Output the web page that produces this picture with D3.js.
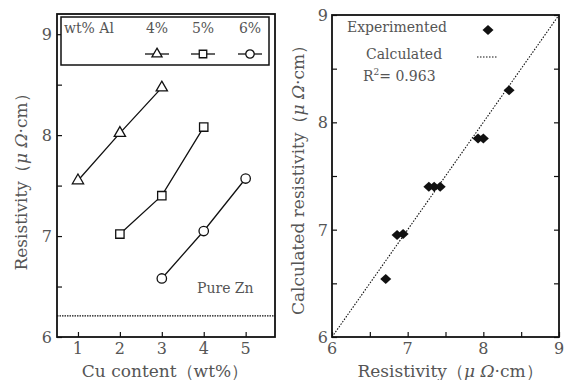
<!DOCTYPE html>
<html><head><meta charset="utf-8">
<script src="https://cdn.jsdelivr.net/npm/d3@7/dist/d3.min.js"></script>
<style>body{margin:0;background:#fff}svg{display:block}text{font-family:"DejaVu Serif","Liberation Serif",serif;fill:#555}</style>
</head><body><svg id="c" width="566" height="380"></svg>
<script>
// ---- data ----
const cuContent = [1, 2, 3, 4, 5];
const alLabels = ["4%", "5%", "6%"];
const series4 = [[1, 7.55], [2, 8.02], [3, 8.47]];
const series5 = [[2, 7.02], [3, 7.40], [4, 8.08]];
const series6 = [[3, 6.58], [4, 7.05], [5, 7.57]];
const pureZn = 6.21;
const expValues  = [6.71, 6.86, 6.94, 7.28, 7.35, 7.43, 7.93, 8.00, 8.34];
const calcValues = [6.54, 6.95, 6.96, 7.40, 7.40, 7.40, 7.85, 7.85, 8.30];
const fitLine = [[6, 6], [9, 9]];
const r2 = "0.963";

const svg = d3.select("#c");
const ink = "#111";

function unitTitle(sel, prefix) {
  sel.append("tspan").text(prefix + "（");
  sel.append("tspan").attr("font-style", "italic").text("μ Ω");
  sel.append("tspan").text("·cm）");
}

// ---------- left panel ----------
const xL = d3.scaleLinear().domain([0.5, 5.7]).range([57, 275]);
const yL = d3.scaleLinear().domain([6, 9.2]).range([337, 14]);
const L = svg.append("g");
const styleTicks = g => { g.select(".domain").remove(); g.selectAll("line").attr("stroke", ink).attr("stroke-width", 1.2); };

L.append("g").attr("transform", `translate(${xL.range()[0]},0)`)
  .call(d3.axisRight(yL).tickValues(d3.range(6, 9.01, 0.5)).tickSize(5).tickFormat("")).call(styleTicks);
L.selectAll(".ylab").data([6, 7, 8, 9]).enter().append("text")
  .attr("x", 52).attr("y", d => yL(d) + 6).attr("text-anchor", "end").attr("font-size", 16).text(d => d);

L.append("g").attr("transform", `translate(0,${yL.range()[0]})`)
  .call(d3.axisTop(xL).tickValues(cuContent).tickSize(5).tickFormat("")).call(styleTicks);
L.selectAll(".xlab").data(cuContent).enter().append("text")
  .attr("x", d => xL(d)).attr("y", 354).attr("text-anchor", "middle").attr("font-size", 16).text(d => d);

// pure zn
L.append("line").attr("x1", xL.range()[0]).attr("x2", xL.range()[1]).attr("y1", yL(pureZn)).attr("y2", yL(pureZn))
  .attr("stroke", ink).attr("stroke-width", 1.3).attr("stroke-dasharray", "1.5,1");
L.append("text").attr("x", 197).attr("y", yL(6.44)).attr("font-size", 14).text("Pure Zn");

const line = d3.line().x(d => xL(d[0])).y(d => yL(d[1]));
const allSeries = [series4, series5, series6];
const shapes = [d3.symbolTriangle, d3.symbolSquare, d3.symbolCircle];
const sizes = [55, 70, 70];
allSeries.forEach((s, i) => {
  L.append("path").attr("d", line(s)).attr("fill", "none").attr("stroke", ink).attr("stroke-width", 1.3);
  L.selectAll(null).data(s).enter().append("path")
    .attr("d", d3.symbol(shapes[i], sizes[i]))
    .attr("transform", d => `translate(${xL(d[0])},${yL(d[1])})`)
    .attr("fill", "#fff").attr("stroke", ink).attr("stroke-width", 1.3);
});

// legend
L.append("rect").attr("x", 61).attr("y", 17).attr("width", 208).attr("height", 48)
  .attr("fill", "#fff").attr("stroke", ink).attr("stroke-width", 1.5);
L.append("text").attr("x", 64).attr("y", 33).attr("font-size", 14).text("wt% Al");
const legX = [157, 203, 250];
alLabels.forEach((t, i) => {
  L.append("text").attr("x", legX[i]).attr("y", 33).attr("text-anchor", "middle").attr("font-size", 14).text(t);
  L.append("line").attr("x1", legX[i] - 12).attr("x2", legX[i] + 12).attr("y1", 54).attr("y2", 54)
    .attr("stroke", ink).attr("stroke-width", 1.3);
  L.append("path").attr("d", d3.symbol(shapes[i], sizes[i] * 0.8)).attr("transform", `translate(${legX[i]},54)`)
    .attr("fill", "#fff").attr("stroke", ink).attr("stroke-width", 1.3);
});

L.append("rect").attr("x", xL.range()[0]).attr("y", yL.range()[1])
  .attr("width", xL.range()[1] - xL.range()[0]).attr("height", yL.range()[0] - yL.range()[1])
  .attr("fill", "none").attr("stroke", ink).attr("stroke-width", 1.8);

unitTitle(L.append("text").attr("transform", `translate(27,178) rotate(-90)`).attr("text-anchor", "middle")
  .attr("font-size", 17), "Resistivity");
L.append("text").attr("x", 165).attr("y", 377).attr("text-anchor", "middle").attr("font-size", 17)
  .text("Cu content（wt%）");

// ---------- right panel ----------
const xR = d3.scaleLinear().domain([6, 9]).range([332, 559]);
const yR = d3.scaleLinear().domain([6, 9]).range([337, 15]);
const R = svg.append("g");
const halfs = d3.range(6, 9.01, 0.5);
R.append("g").attr("transform", `translate(${xR.range()[0]},0)`).call(d3.axisRight(yR).tickValues(halfs).tickSize(5).tickFormat("")).call(styleTicks);
R.append("g").attr("transform", `translate(${xR.range()[1]},0)`).call(d3.axisLeft(yR).tickValues(halfs).tickSize(5).tickFormat("")).call(styleTicks);
R.append("g").attr("transform", `translate(0,${yR.range()[0]})`).call(d3.axisTop(xR).tickValues(halfs).tickSize(5).tickFormat("")).call(styleTicks);

R.selectAll(".ylab").data([6, 7, 8, 9]).enter().append("text")
  .attr("x", 328).attr("y", d => yR(d) + 6).attr("text-anchor", "end").attr("font-size", 16).text(d => d);
R.selectAll(".xlab").data([6, 7, 8, 9]).enter().append("text")
  .attr("x", d => xR(d)).attr("y", 354).attr("text-anchor", "middle").attr("font-size", 16).text(d => d);

const lineR = d3.line().x(d => xR(d[0])).y(d => yR(d[1]));
R.append("path").attr("d", lineR(fitLine)).attr("fill", "none").attr("stroke", ink)
  .attr("stroke-width", 1.1).attr("stroke-dasharray", "1.5,1.5");

const diamond = "M0,-5L5.5,0L0,5L-5.5,0Z";
R.selectAll(".pt").data(expValues.map((v, i) => [v, calcValues[i]])).enter().append("path")
  .attr("d", diamond).attr("transform", d => `translate(${xR(d[0])},${yR(d[1])})`).attr("fill", ink);

// legend
R.append("text").attr("x", 347).attr("y", 32).attr("font-size", 14).text("Experimented");
R.append("path").attr("d", diamond).attr("transform", "translate(488,30)").attr("fill", ink);
R.append("text").attr("x", 366).attr("y", 59).attr("font-size", 14).text("Calculated");
R.append("line").attr("x1", 477).attr("x2", 498).attr("y1", 57).attr("y2", 57).attr("stroke", ink)
  .attr("stroke-width", 1.1).attr("stroke-dasharray", "1.5,1.5");
const rt = R.append("text").attr("x", 363).attr("y", 81).attr("font-size", 14);
rt.append("tspan").text("R");
rt.append("tspan").attr("dy", -6).attr("font-size", 9).text("2");
rt.append("tspan").attr("dy", 6).text("= " + r2);

R.append("rect").attr("x", xR.range()[0]).attr("y", yR.range()[1])
  .attr("width", xR.range()[1] - xR.range()[0]).attr("height", yR.range()[0] - yR.range()[1])
  .attr("fill", "none").attr("stroke", ink).attr("stroke-width", 1.8);

unitTitle(R.append("text").attr("transform", `translate(304,176) rotate(-90)`).attr("text-anchor", "middle")
  .attr("font-size", 17), "Calculated resistivity");
unitTitle(R.append("text").attr("x", 450).attr("y", 377).attr("text-anchor", "middle").attr("font-size", 17), "Resistivity");
</script></body></html>
